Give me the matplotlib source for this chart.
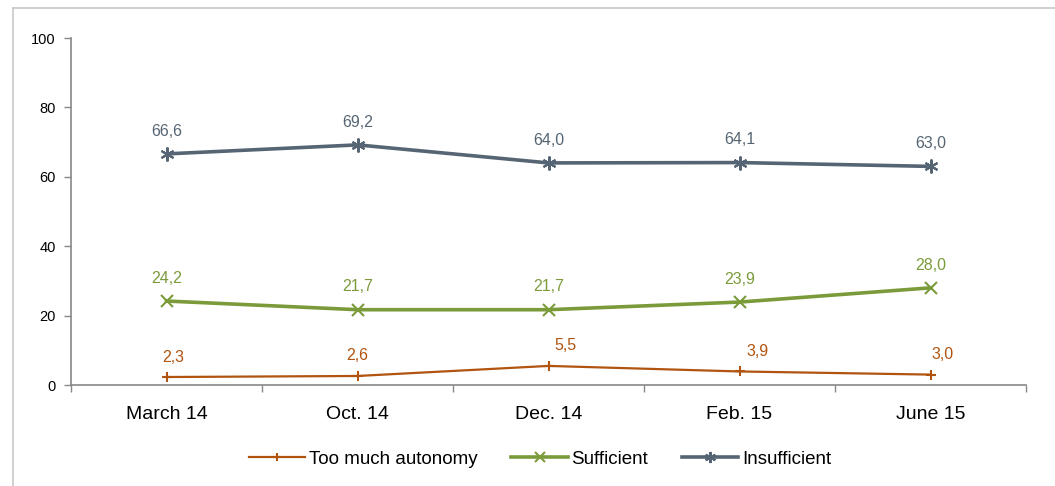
import matplotlib
matplotlib.use("Agg")
import matplotlib.pyplot as plt
from matplotlib.lines import Line2D

plt.rcParams['font.family'] = ['Liberation Sans', 'DejaVu Sans']

categories = ["March 14", "Oct. 14", "Dec. 14", "Feb. 15", "June 15"]
too_much = [2.3, 2.6, 5.5, 3.9, 3.0]
sufficient = [24.2, 21.7, 21.7, 23.9, 28.0]
insufficient = [66.6, 69.2, 64.0, 64.1, 63.0]
y_ticks = [0, 20, 40, 60, 80, 100]

c_orange = "#B0540F"
c_green = "#7B9B3B"
c_slate = "#566573"

fig = plt.figure(figsize=(10.55, 4.86), dpi=100)
# outer frame
fig.add_artist(Line2D([13/1055, 13/1055], [0, 1 - 8/486], color="#C8C8C8", lw=1.2, transform=fig.transFigure))
fig.add_artist(Line2D([13/1055, 1], [1 - 8/486, 1 - 8/486], color="#C8C8C8", lw=1.2, transform=fig.transFigure))

ax = fig.add_axes([71/1055, 1 - 385/486, (1026 - 71)/1055, (385 - 38)/486])
x = list(range(len(categories)))

series = [
    (too_much, c_orange, "+", 1.6, 7, "Too much autonomy"),
    (sufficient, c_green, "x", 2.6, 9, "Sufficient"),
    (insufficient, c_slate, (6, 2, 0), 2.6, 10, "Insufficient"),
]
handles = []
for vals, col, mk, lw, ms, lab in series:
    h, = ax.plot(x, vals, color=col, lw=lw, marker=mk, ms=ms, mew=1.5, label=lab)
    handles.append(h)

def fmt(v):
    return f"{v:.1f}".replace(".", ",")

orange_dx = [5, 0, 12, 13, 9]
for i, v in enumerate(too_much):
    ax.annotate(fmt(v), (i, v), xytext=(orange_dx[i], 9), textcoords="offset points",
                ha="center", va="bottom", color=c_orange, fontsize=11.5)
for i, v in enumerate(sufficient):
    ax.annotate(fmt(v), (i, v), xytext=(0, 11), textcoords="offset points",
                ha="center", va="bottom", color=c_green, fontsize=11.5)
for i, v in enumerate(insufficient):
    ax.annotate(fmt(v), (i, v), xytext=(0, 11), textcoords="offset points",
                ha="center", va="bottom", color=c_slate, fontsize=11.5)

ax.set_xlim(-0.5, len(categories) - 0.5)
ax.set_ylim(0, 100)
ax.set_yticks(y_ticks)
ax.set_yticklabels([str(t) for t in y_ticks], fontsize=10.5)
ax.set_xticks(x)
ax.set_xticklabels(categories, fontsize=14)
ax.tick_params(axis="x", length=0, pad=15)
ax.set_xticks([i - 0.5 for i in range(len(categories) + 1)], minor=True)
ax.tick_params(axis="x", which="minor", length=5, color="#888888", width=1)
ax.tick_params(axis="y", length=5, color="#888888", width=1, pad=6)
for s in ["top", "right"]:
    ax.spines[s].set_visible(False)
for s in ["left", "bottom"]:
    ax.spines[s].set_color("#888888")
    ax.spines[s].set_linewidth(1.2)

leg = fig.legend(handles=handles, loc="center", bbox_to_anchor=(540/1055, 1 - 459/486),
                 ncol=3, frameon=False, fontsize=13.5, handlelength=3.0, handletextpad=0.2,
                 columnspacing=1.8, markerscale=0.8)

fig.savefig("out.png", dpi=100)
